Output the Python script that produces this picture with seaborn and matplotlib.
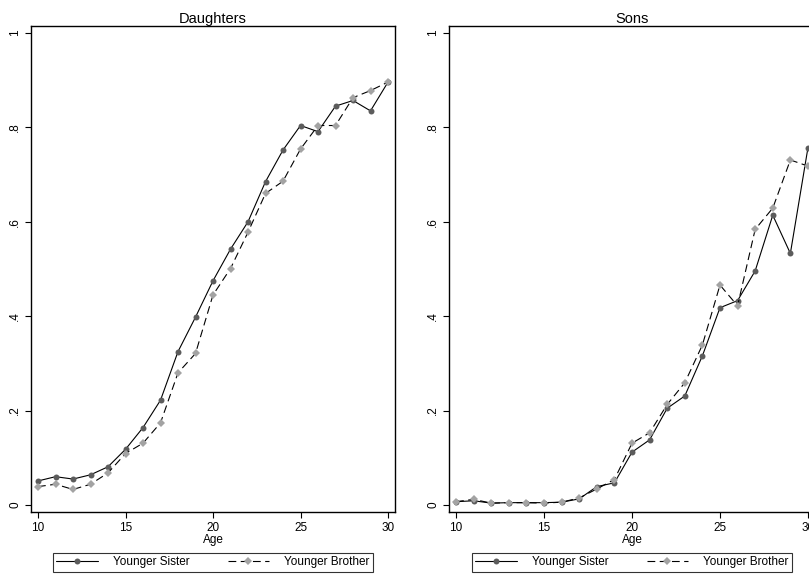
import numpy as np
import pandas as pd
from matplotlib import pyplot as plt
from matplotlib.lines import Line2D
import seaborn as sns

ages = list(range(10, 31))

daughters_sister = [0.051, 0.060, 0.055, 0.064, 0.081, 0.118, 0.164, 0.222, 0.325, 0.398, 0.475,
                    0.542, 0.600, 0.685, 0.752, 0.804, 0.791, 0.845, 0.857, 0.835, 0.896]
daughters_brother = [0.039, 0.044, 0.033, 0.044, 0.068, 0.109, 0.131, 0.174, 0.280, 0.321, 0.445,
                     0.501, 0.578, 0.660, 0.686, 0.754, 0.804, 0.804, 0.863, 0.878, 0.896]
sons_sister = [0.007, 0.009, 0.004, 0.005, 0.005, 0.005, 0.006, 0.013, 0.039, 0.047, 0.112,
               0.138, 0.205, 0.231, 0.316, 0.418, 0.433, 0.496, 0.614, 0.533, 0.757]
sons_brother = [0.007, 0.012, 0.004, 0.005, 0.005, 0.004, 0.006, 0.015, 0.034, 0.054, 0.131,
                0.153, 0.213, 0.259, 0.339, 0.466, 0.422, 0.584, 0.629, 0.731, 0.718]

y_ticks = [0, 0.2, 0.4, 0.6, 0.8, 1.0]
y_tick_labels = ["0", ".2", ".4", ".6", ".8", "1"]
x_ticks = [10, 15, 20, 25, 30]
labels = ["Younger Sister", "Younger Brother"]

sns.set_theme(style="white")
plt.rcParams['font.family'] = ['Liberation Sans', 'DejaVu Sans']
plt.rcParams['text.color'] = 'black'
plt.rcParams['xtick.color'] = 'black'
plt.rcParams['ytick.color'] = 'black'
plt.rcParams['axes.labelcolor'] = 'black'

W, H = 809, 578
fig = plt.figure(figsize=(W / 100, H / 100), dpi=100)

sister_col = "#5c5c5c"
brother_col = "#a3a3a3"


def panel(rect, title, sister, brother):
    ax = fig.add_axes(rect)
    df = pd.DataFrame({"Age": ages, "sister": sister, "brother": brother})
    sns.lineplot(data=df, x="Age", y="sister", ax=ax, color="black", linewidth=0.8,
                 marker="o", markersize=4.3, markerfacecolor=sister_col,
                 markeredgecolor=sister_col, markeredgewidth=0)
    sns.lineplot(data=df, x="Age", y="brother", ax=ax, color="black", linewidth=0.8,
                 linestyle=(0, (7, 4)), marker="D", markersize=4.5,
                 markerfacecolor=brother_col, markeredgecolor=brother_col, markeredgewidth=0)
    ax.set_xlim(9.6, 30.4)
    ax.set_ylim(-0.0148, 1.0148)
    ax.set_xticks(x_ticks)
    ax.set_yticks(y_ticks)
    ax.set_yticklabels(y_tick_labels, rotation=90, va="center")
    ax.tick_params(axis="both", direction="out", length=4, width=0.8, color="black",
                   labelsize=8.5, pad=3, bottom=True, left=True)
    for s in ax.spines.values():
        s.set_color("black")
        s.set_linewidth(1.0)
    ax.set_xlabel("Age", fontsize=8.5, labelpad=0)
    ax.set_ylabel("")
    ax.set_title(title, fontsize=10.5, pad=2)

    handles = [
        Line2D([], [], color="black", linewidth=0.8, marker="o", markersize=4.3,
               markerfacecolor=sister_col, markeredgecolor=sister_col, markeredgewidth=0),
        Line2D([], [], color="black", linewidth=0.8, linestyle=(0, (7, 4)), marker="D",
               markersize=4.5, markerfacecolor=brother_col, markeredgecolor=brother_col,
               markeredgewidth=0),
    ]
    leg = ax.legend(handles, labels, loc="upper center", bbox_to_anchor=(0.5, -0.072),
                    ncol=2, frameon=True, fancybox=False, fontsize=8.5, handlelength=3.5,
                    columnspacing=3.2, borderpad=0.3, handletextpad=1.3)
    leg.get_frame().set_edgecolor("black")
    leg.get_frame().set_linewidth(0.8)
    return ax


panel([31 / W, 66 / H, 364 / W, 486 / H], "Daughters", daughters_sister, daughters_brother)
panel([449 / W, 66 / H, 366 / W, 486 / H], "Sons", sons_sister, sons_brother)

fig.savefig("out.png", dpi=100)
